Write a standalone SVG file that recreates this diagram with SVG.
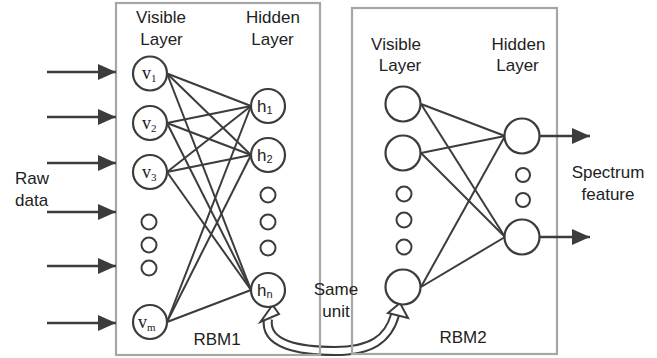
<svg xmlns="http://www.w3.org/2000/svg" width="657" height="358" viewBox="0 0 657 358">
<defs>
<style>
.box{fill:none;stroke:#a6a6a6;stroke-width:2.2}
.n{fill:#fff;stroke:#3c3c3c;stroke-width:2.2}
.d{fill:#fff;stroke:#3c3c3c;stroke-width:2}
.e{stroke:#3c3c3c;stroke-width:2;fill:none}
.io{stroke:#3c3c3c;stroke-width:2.5;fill:none}
.t{font-family:"Liberation Sans",Arial,sans-serif;font-size:17px;fill:#222}
.c{text-anchor:middle}
.v{font-family:"Liberation Serif","Times New Roman",serif;font-size:18px;fill:#222}
.vs{font-size:11px}
.h{font-family:"Liberation Sans",Arial,sans-serif;font-size:17px;fill:#222}
.hs{font-size:11px}
</style>
<marker id="ah" markerWidth="18" markerHeight="16" refX="18" refY="8" orient="auto" markerUnits="userSpaceOnUse">
<path d="M0,0 L18,8 L0,16 Z" fill="#3c3c3c"/>
</marker>
</defs>

<g id="band">
<path d="M 268 319 C 264 345, 300 351, 335 351 C 370 351, 388 340, 395 315" stroke="#3c3c3c" stroke-width="10" fill="none"/>
<path d="M 268 319 C 264 345, 300 351, 335 351 C 370 351, 388 340, 395 315" stroke="#fff" stroke-width="6" fill="none"/>
<path d="M 272.5 305 L 260.5 322 L 279 314 Z" fill="#fff" stroke="#3c3c3c" stroke-width="2" stroke-linejoin="miter"/>
<path d="M 400 303 L 388 313 L 408 318 Z" fill="#fff" stroke="#3c3c3c" stroke-width="2" stroke-linejoin="miter"/>
</g>

<g id="RBM1">
<rect class="box" x="116" y="3" width="204" height="352"/>
<text class="t c" x="161" y="23">Visible</text>
<text class="t c" x="161.5" y="45">Layer</text>
<text class="t c" x="273" y="23">Hidden</text>
<text class="t c" x="272.5" y="45">Layer</text>
<text class="t c" x="217" y="345">RBM1</text>
</g>

<g id="RBM2">
<rect class="box" x="352" y="8" width="205" height="346"/>
<text class="t c" x="396" y="50">Visible</text>
<text class="t c" x="400" y="71">Layer</text>
<text class="t c" x="518.5" y="50">Hidden</text>
<text class="t c" x="517.5" y="71">Layer</text>
<text class="t c" x="463" y="343">RBM2</text>
</g>

<g id="connectors">
<line class="io" x1="47" y1="72" x2="116" y2="72" marker-end="url(#ah)"/>
<line class="io" x1="47" y1="117" x2="116" y2="117" marker-end="url(#ah)"/>
<line class="io" x1="47" y1="163" x2="116" y2="163" marker-end="url(#ah)"/>
<line class="io" x1="47" y1="212" x2="116" y2="212" marker-end="url(#ah)"/>
<line class="io" x1="47" y1="266" x2="116" y2="266" marker-end="url(#ah)"/>
<line class="io" x1="47" y1="323" x2="116" y2="323" marker-end="url(#ah)"/>
<line class="e" x1="167" y1="73.5" x2="251" y2="106"/>
<line class="e" x1="167" y1="73.5" x2="251" y2="155"/>
<line class="e" x1="167" y1="73.5" x2="251" y2="290"/>
<line class="e" x1="167" y1="123" x2="251" y2="106"/>
<line class="e" x1="167" y1="123" x2="251" y2="155"/>
<line class="e" x1="167" y1="123" x2="251" y2="290"/>
<line class="e" x1="167" y1="172" x2="251" y2="106"/>
<line class="e" x1="167" y1="172" x2="251" y2="155"/>
<line class="e" x1="167" y1="172" x2="251" y2="290"/>
<line class="e" x1="167" y1="322" x2="251" y2="106"/>
<line class="e" x1="167" y1="322" x2="251" y2="155"/>
<line class="e" x1="167" y1="322" x2="251" y2="290"/>
<line class="e" x1="421" y1="104" x2="505" y2="136"/>
<line class="e" x1="421" y1="104" x2="505" y2="237"/>
<line class="e" x1="421" y1="153" x2="505" y2="136"/>
<line class="e" x1="421" y1="153" x2="505" y2="237"/>
<line class="e" x1="421" y1="287" x2="505" y2="136"/>
<line class="e" x1="421" y1="287" x2="505" y2="237"/>
<line class="io" x1="540" y1="136" x2="590" y2="136" marker-end="url(#ah)"/>
<line class="io" x1="540" y1="237" x2="590" y2="237" marker-end="url(#ah)"/>
</g>

<g id="v1"><circle class="n" cx="150" cy="73.5" r="17"/><text class="v" x="142" y="79">v<tspan class="vs" dy="3">1</tspan></text></g>
<g id="v2"><circle class="n" cx="150" cy="123" r="17"/><text class="v" x="142" y="128.5">v<tspan class="vs" dy="3">2</tspan></text></g>
<g id="v3"><circle class="n" cx="150" cy="172" r="17"/><text class="v" x="142" y="177.5">v<tspan class="vs" dy="3">3</tspan></text></g>
<g id="vdots"><circle class="d" cx="149" cy="222" r="7.5"/><circle class="d" cx="149" cy="245" r="7.5"/><circle class="d" cx="149" cy="268" r="7.5"/></g>
<g id="vm"><circle class="n" cx="150" cy="322" r="17"/><text class="v" x="138" y="327.5">v<tspan class="vs" dy="3">m</tspan></text></g>

<g id="h1"><circle class="n" cx="268" cy="106" r="17"/><text class="h" x="257" y="112">h<tspan class="hs" dy="2">1</tspan></text></g>
<g id="h2"><circle class="n" cx="268" cy="155" r="17"/><text class="h" x="257" y="161">h<tspan class="hs" dy="2">2</tspan></text></g>
<g id="hdots"><circle class="d" cx="268" cy="195" r="7.5"/><circle class="d" cx="268" cy="222" r="7.5"/><circle class="d" cx="268" cy="248" r="7.5"/></g>
<g id="hn"><circle class="n" cx="268" cy="290" r="17"/><text class="h" x="257" y="296">h<tspan class="hs" dy="2">n</tspan></text></g>

<g id="r2v1"><circle class="n" cx="403" cy="104" r="17.5"/></g>
<g id="r2v2"><circle class="n" cx="403" cy="153" r="17.5"/></g>
<g id="r2vdots"><circle class="d" cx="404" cy="194" r="7.5"/><circle class="d" cx="404" cy="220" r="7.5"/><circle class="d" cx="404" cy="247" r="7.5"/></g>
<g id="r2v3"><circle class="n" cx="403" cy="287" r="17.5"/></g>
<g id="r2h1"><circle class="n" cx="522" cy="136" r="17.5"/></g>
<g id="r2hdots"><circle class="d" cx="523" cy="175" r="7"/><circle class="d" cx="523" cy="200" r="7"/></g>
<g id="r2h2"><circle class="n" cx="522" cy="237" r="17.5"/></g>

<g id="labels">
<text class="t" x="15" y="184">Raw</text>
<text class="t" x="15" y="206">data</text>
<text class="t c" x="608" y="178">Spectrum</text>
<text class="t c" x="608" y="200">feature</text>
<text class="t c" x="336" y="295">Same</text>
<text class="t c" x="336" y="317">unit</text>
</g>
</svg>
